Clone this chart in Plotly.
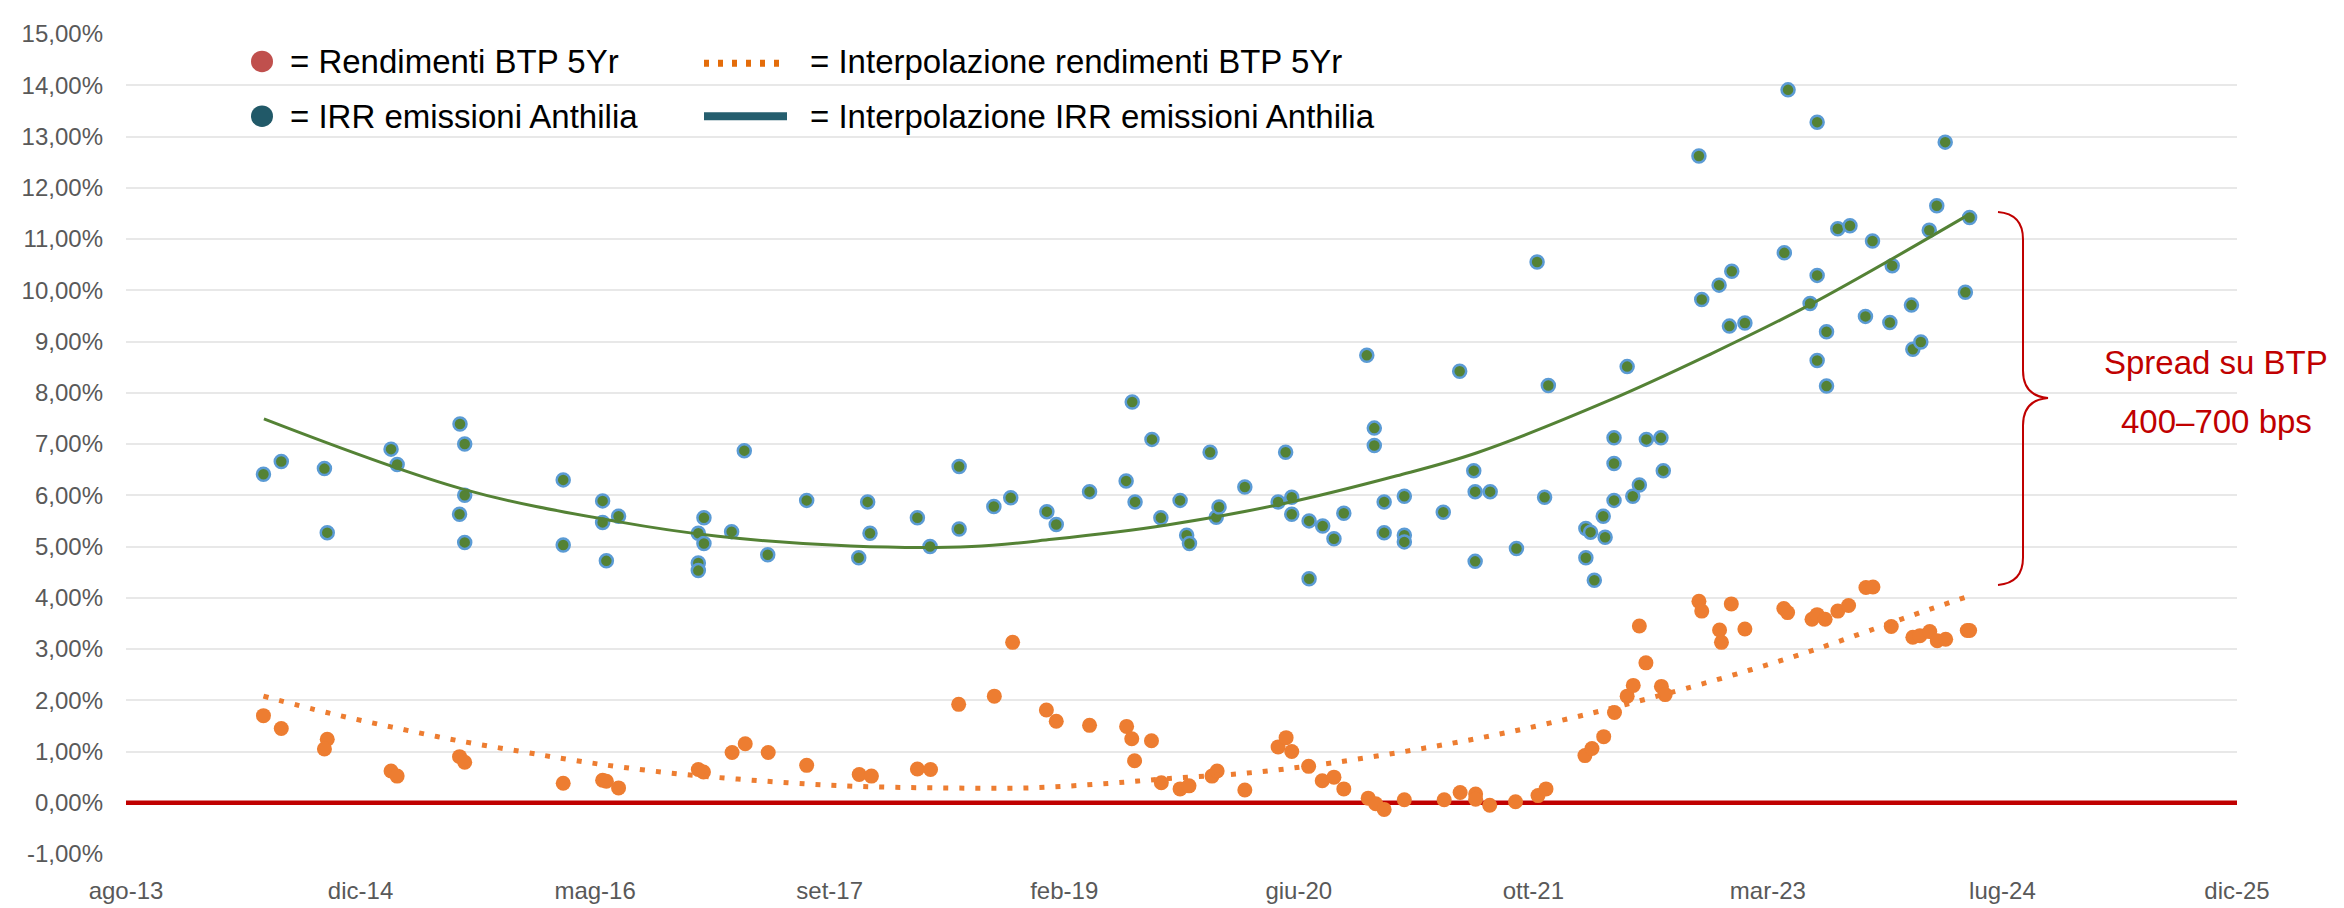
import pandas as pd
import plotly.graph_objects as go

# ---------------- DATA (dates as Excel serial numbers) ----------------
irr_serial = [41793, 41831, 41923, 41929, 42065, 42078, 42212, 42222, 42222, 42211,
              42222, 42432, 42432, 42516, 42516, 42524, 42550, 42720, 42732, 42732,
              42720, 42720, 42791, 42818, 42868, 42951, 43081, 43086, 43062, 43187,
              43214, 43276, 43276, 43350, 43386, 43463, 43483, 43554, 43632, 43645,
              43651, 43687, 43706, 43747, 43761, 43767, 43811, 43824, 43830, 43885,
              43956, 43972, 43985, 43985, 44022, 44022, 44051, 44075, 44096, 44145,
              44161, 44161, 44182, 44182, 44225, 44225, 44225, 44308, 44343, 44373,
              44376, 44408, 44376, 44464, 44508, 44524, 44532, 44612, 44622, 44612,
              44630, 44653, 44649, 44672, 44672, 44672, 44700, 44712, 44726, 44741,
              44772, 44777, 44853, 44859, 44896, 44923, 44918, 44951, 45035, 45043,
              45090, 45105, 45105, 45125, 45105, 45125, 45149, 45175, 45208, 45223,
              45260, 45265, 45306, 45309, 45326, 45344, 45360, 45378, 45430, 45421]
irr_value = [6.41, 6.66, 6.52, 5.27, 6.90, 6.60, 7.39, 7.00, 6.00, 5.63,
             5.08, 6.30, 5.03, 5.89, 5.47, 4.72, 5.59, 5.26, 5.56, 5.06,
             4.68, 4.53, 5.29, 6.87, 4.84, 5.90, 5.87, 5.26, 4.78, 5.56,
             5.00, 6.56, 5.34, 5.78, 5.95, 5.68, 5.43, 6.07, 6.28, 7.82,
             5.87, 7.09, 5.56, 5.90, 5.22, 5.06, 6.84, 5.57, 5.77, 6.16,
             5.87, 6.84, 5.96, 5.63, 5.50, 4.37, 5.40, 5.15, 5.65, 8.73,
             7.31, 6.97, 5.87, 5.27, 5.98, 5.22, 5.09, 5.67, 8.42, 6.48,
             6.07, 6.07, 4.71, 4.96, 10.55, 5.96, 8.14, 5.35, 5.28, 4.78,
             4.34, 5.18, 5.59, 5.90, 6.62, 7.12, 8.51, 5.98, 6.20, 7.09,
             7.12, 6.48, 12.62, 9.82, 10.10, 10.37, 9.30, 9.36, 10.73, 13.91,
             9.74, 13.28, 10.29, 9.19, 8.63, 8.13, 11.20, 11.26, 9.49, 10.96,
             9.37, 10.48, 9.71, 8.85, 8.99, 11.17, 11.65, 12.89, 11.42, 9.96]

btp_serial = [41793, 41831, 41929, 41923, 42065, 42078, 42211, 42222, 42432, 42516,
              42524, 42550, 42720, 42731, 42792, 42820, 42869, 42951, 43063, 43089,
              43187, 43215, 43275, 43351, 43390, 43462, 43483, 43554, 43633, 43644,
              43650, 43686, 43707, 43747, 43766, 43815, 43826, 43885, 43956, 43973,
              43985, 44021, 44050, 44075, 44096, 44148, 44164, 44182, 44225, 44310,
              44344, 44377, 44377, 44407, 44462, 44510, 44527, 44610, 44625, 44650,
              44673, 44700, 44713, 44740, 44726, 44773, 44781, 44853, 44859, 44897,
              44901, 44922, 44951, 45034, 45042, 45094, 45105, 45122, 45149, 45172,
              45209, 45224, 45263, 45309, 45324, 45345, 45361, 45379, 45425, 45430]
btp_value = [1.70, 1.45, 1.24, 1.05, 0.62, 0.52, 0.90, 0.79, 0.38, 0.44,
             0.42, 0.29, 0.65, 0.60, 0.98, 1.15, 0.98, 0.73, 0.55, 0.52,
             0.66, 0.65, 1.92, 2.08, 3.13, 1.81, 1.59, 1.51, 1.49, 1.25,
             0.82, 1.21, 0.39, 0.27, 0.33, 0.52, 0.62, 0.25, 1.09, 1.27,
             1.00, 0.71, 0.43, 0.50, 0.27, 0.09, -0.02, -0.13, 0.06, 0.06,
             0.20, 0.17, 0.07, -0.05, 0.02, 0.14, 0.27, 0.92, 1.06, 1.29,
             1.76, 2.08, 2.29, 2.73, 3.45, 2.27, 2.11, 3.93, 3.74, 3.37,
             3.13, 3.88, 3.39, 3.79, 3.71, 3.58, 3.67, 3.58, 3.74, 3.85,
             4.20, 4.21, 3.44, 3.23, 3.26, 3.34, 3.16, 3.19, 3.36, 3.36]

irr_trend_serial = [41794, 42218, 42545, 42762, 43045, 43303, 43474, 43719,
                    43964, 44209, 44380, 44659, 44872, 45086, 45429]
irr_trend_value = [7.49, 6.12, 5.49, 5.20, 5.01, 5.00, 5.14, 5.42,
                   5.83, 6.38, 6.83, 7.84, 8.73, 9.70, 11.48]

btp_trend_serial = [41793, 41928, 42065, 42203, 42342, 42446, 42552, 42693, 42911,
                    43058, 43230, 43426, 43597, 43719, 43891, 44072, 44283, 44454,
                    44625, 44727, 44825, 44962, 45094, 45226, 45324, 45425]
btp_trend_value = [2.08, 1.76, 1.48, 1.22, 1.00, 0.84, 0.70, 0.55, 0.39,
                   0.32, 0.29, 0.29, 0.38, 0.47, 0.58, 0.78, 1.09, 1.39,
                   1.75, 1.99, 2.23, 2.59, 2.97, 3.39, 3.71, 4.02]

x_tick_serial = [41500, 42000, 42500, 43000, 43500, 44000, 44500, 45000, 45500, 46000]
x_tick_text = ["ago-13", "dic-14", "mag-16", "set-17", "feb-19", "giu-20",
               "ott-21", "mar-23", "lug-24", "dic-25"]
y_tick_vals = [-1, 0, 1, 2, 3, 4, 5, 6, 7, 8, 9, 10, 11, 12, 13, 14, 15]
y_tick_text = ["-1,00%", "0,00%", "1,00%", "2,00%", "3,00%", "4,00%", "5,00%",
               "6,00%", "7,00%", "8,00%", "9,00%", "10,00%", "11,00%", "12,00%",
               "13,00%", "14,00%", "15,00%"]
legend_labels = ["= Rendimenti BTP 5Yr", "= IRR emissioni Anthilia",
                 "= Interpolazione rendimenti BTP 5Yr", "= Interpolazione IRR emissioni Anthilia"]
spread_lines = ["Spread su BTP", "400\u2013700 bps"]


def to_date(serials):
    return [d.strftime("%Y-%m-%d") for d in
            pd.to_datetime(pd.Series(serials), unit="D", origin="1899-12-30")]


x_range = to_date([x_tick_serial[0], x_tick_serial[-1]])

# ---------------- FIGURE ----------------
W, H = 2344, 908
PL, PR, PT, PB = 118, 2229, 22, 860


def pxx(x):
    return (x - PL) / (PR - PL)


def pyy(y):
    return (PB - y) / (PB - PT)


FONT = "Liberation Sans, Arial, sans-serif"
fig = go.Figure()

fig.add_trace(go.Scatter(x=x_range, y=[0, 0], mode="lines",
                         line=dict(color="#C00000", width=4.5),
                         hoverinfo="skip", showlegend=False))

fig.add_trace(go.Scatter(x=to_date(btp_serial), y=btp_value, mode="markers",
                         marker=dict(color="#ED7D31", size=15, line=dict(width=0)),
                         showlegend=False))
fig.add_trace(go.Scatter(x=to_date(irr_serial), y=irr_value, mode="markers",
                         marker=dict(color="#548235", size=13,
                                     line=dict(color="#5B9BD5", width=2.5)),
                         showlegend=False))
fig.add_trace(go.Scatter(x=to_date(btp_trend_serial), y=btp_trend_value, mode="lines",
                         line=dict(color="#ED7D31", width=5, dash="5px,11px", shape="spline"),
                         showlegend=False))
fig.add_trace(go.Scatter(x=to_date(irr_trend_serial), y=irr_trend_value, mode="lines",
                         line=dict(color="#548235", width=3, shape="spline"),
                         showlegend=False))

shapes = []
annotations = []

# custom legend
rows = [50, 106]
for i, (col, y) in enumerate(zip(["#C0504D", "#215968"], rows)):
    shapes.append(dict(type="circle", xref="paper", yref="paper",
                       x0=pxx(243), x1=pxx(265), y0=pyy(y + 11), y1=pyy(y - 11),
                       fillcolor=col, line=dict(width=0)))
    annotations.append(dict(text=legend_labels[i], xref="paper", yref="paper",
                            x=pxx(280), y=pyy(y), xanchor="left", yanchor="middle",
                            showarrow=False, font=dict(family=FONT, size=33, color="#000000")))
shapes.append(dict(type="line", xref="paper", yref="paper",
                   x0=pxx(696), x1=pxx(780), y0=pyy(52), y1=pyy(52),
                   line=dict(color="#E46C0A", width=7, dash="5px,9px")))
shapes.append(dict(type="line", xref="paper", yref="paper",
                   x0=pxx(696), x1=pxx(779), y0=pyy(106), y1=pyy(106),
                   line=dict(color="#255E6E", width=8)))
for i, y in enumerate(rows):
    annotations.append(dict(text=legend_labels[2 + i], xref="paper", yref="paper",
                            x=pxx(800), y=pyy(y), xanchor="left", yanchor="middle",
                            showarrow=False, font=dict(family=FONT, size=33, color="#000000")))

# curly brace
pts = [("M", [(1990, 204)]), ("Q", [(2015, 206), (2015, 232)]), ("L", [(2015, 366)]),
       ("Q", [(2015, 392), (2040, 394)]), ("Q", [(2015, 396), (2015, 422)]),
       ("L", [(2015, 557)]), ("Q", [(2015, 583), (1990, 585)])]
path = ""
for cmd, ps in pts:
    path += cmd + " " + " ".join(f"{pxx(a):.5f},{pyy(b):.5f}" for a, b in ps) + " "
shapes.append(dict(type="path", xref="paper", yref="paper", path=path.strip(),
                   line=dict(color="#C00000", width=2)))

for txt, y in zip(spread_lines, [358, 418]):
    annotations.append(dict(text=txt, xref="paper", yref="paper", x=pxx(2208), y=pyy(y),
                            xanchor="center", yanchor="middle", showarrow=False,
                            font=dict(family=FONT, size=33, color="#C00000")))

fig.update_layout(
    width=W, height=H, autosize=False,
    margin=dict(l=PL, r=W - PR, t=PT, b=H - PB),
    paper_bgcolor="white", plot_bgcolor="white",
    shapes=shapes, annotations=annotations, showlegend=False,
    xaxis=dict(type="date", range=x_range, tickvals=to_date(x_tick_serial),
               ticktext=x_tick_text, showgrid=False, zeroline=False, showline=False,
               ticks="", ticklabelstandoff=20,
               tickfont=dict(family=FONT, size=24, color="#595959")),
    yaxis=dict(range=[-1, 15], tickvals=y_tick_vals, ticktext=y_tick_text,
               showgrid=True, gridcolor="#E8E8E8", gridwidth=1.5, zeroline=False,
               showline=False, ticks="", ticklabelstandoff=22,
               tickfont=dict(family=FONT, size=24, color="#595959")),
)

fig.write_html("out.html")
